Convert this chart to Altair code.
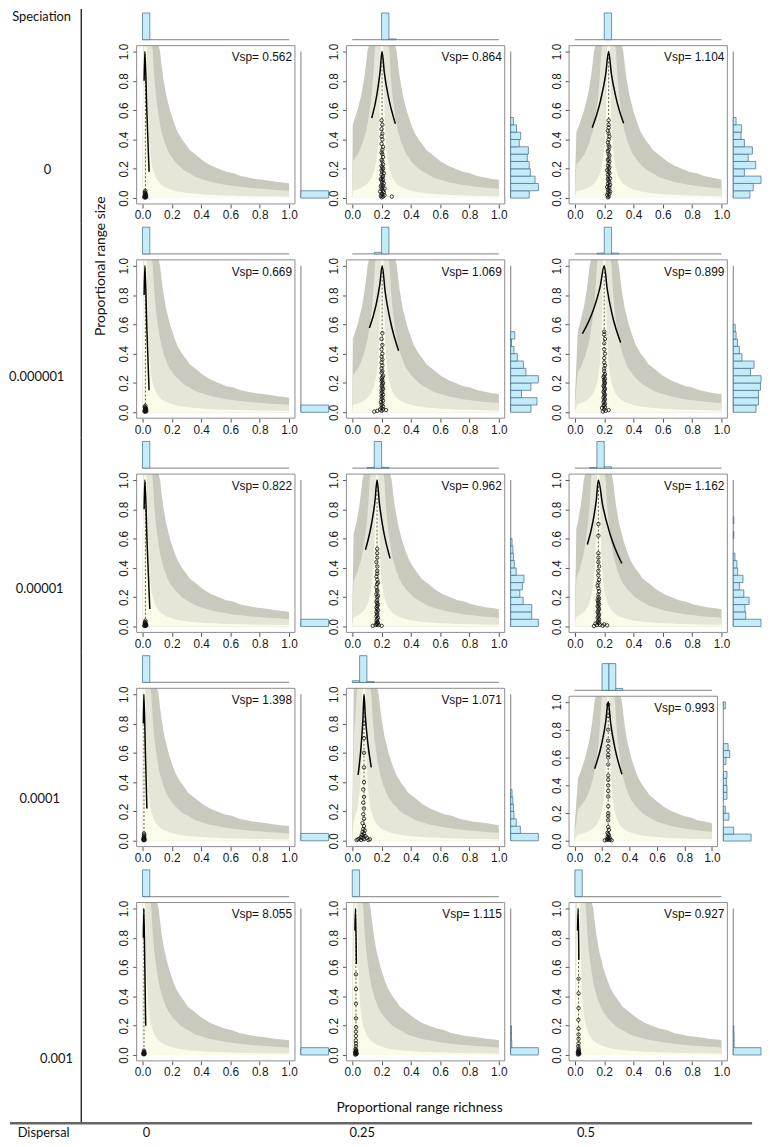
import altair as alt
import pandas as pd

# ---------------- data ----------------
ROW_LABELS = ["0", "0.000001", "0.00001", "0.0001", "0.001"]
COL_LABELS = ["0", "0.25", "0.5"]
TICKS = [0, 0.2, 0.4, 0.6, 0.8, 1.0]

# envelope bands: distance from centre -> upper edge of each band
BAND_D = [0.002, 0.005, 0.008, 0.01, 0.012, 0.015, 0.02, 0.025, 0.03, 0.035, 0.04, 0.045, 0.05,
          0.06, 0.07, 0.08, 0.09, 0.1, 0.11, 0.12, 0.13, 0.14, 0.15, 0.16, 0.17, 0.18, 0.2, 0.22,
          0.25, 0.28, 0.3, 0.35, 0.4, 0.45, 0.5, 0.55, 0.6, 0.65, 0.7, 0.75, 0.8, 0.85, 0.9, 0.95, 1.0]
BAND_OUTER = [2.0, 2.0, 2.0, 2.0, 2.0, 2.0, 2.0, 2.0, 2.0, 2.0, 2.0, 2.0, 2.0,
              1.67, 1.43, 1.25, 1.11, 1.0, 0.91, 0.83, 0.77, 0.71, 0.67, 0.63, 0.59, 0.56, 0.5, 0.45,
              0.4, 0.36, 0.33, 0.29, 0.25, 0.22, 0.2, 0.18, 0.17, 0.15, 0.14, 0.13, 0.125, 0.118, 0.11, 0.105, 0.1]
BAND_MID = [2.5, 2.5, 2.5, 2.5, 2.5, 2.5, 2.5, 2.0, 1.67, 1.43, 1.25, 1.11, 1.0,
            0.83, 0.71, 0.63, 0.56, 0.5, 0.45, 0.42, 0.38, 0.36, 0.33, 0.31, 0.29, 0.28, 0.25, 0.23,
            0.2, 0.18, 0.17, 0.14, 0.125, 0.11, 0.1, 0.09, 0.083, 0.077, 0.071, 0.067, 0.063, 0.059, 0.056, 0.053, 0.05]
BAND_INNER = [5.0, 2.0, 1.25, 1.0, 0.83, 0.67, 0.5, 0.4, 0.33, 0.29, 0.25, 0.22, 0.2,
              0.17, 0.14, 0.125, 0.11, 0.1, 0.09, 0.083, 0.077, 0.071, 0.067, 0.063, 0.059, 0.056, 0.05, 0.045,
              0.04, 0.036, 0.033, 0.029, 0.025, 0.022, 0.02, 0.018, 0.017, 0.015, 0.014, 0.013, 0.0125, 0.012, 0.011, 0.0105, 0.01]

# panels in row-major order (5 speciation rows x 3 dispersal columns)
VSP = ["0.562", "0.864", "1.104", "0.669", "1.069", "0.899", "0.822", "0.962", "1.162",
       "1.398", "1.071", "0.993", "8.055", "1.115", "0.927"]
CENTER = [0.02, 0.203, 0.23, 0.02, 0.204, 0.2, 0.02, 0.169, 0.16, 0.01, 0.08, 0.245, 0.01, 0.025, 0.025]

TOP_START = [[0.0], [0.2, 0.25], [0.2],
             [0.0], [0.15, 0.2], [0.15, 0.2, 0.25],
             [0.0], [0.1, 0.15, 0.2], [0.1, 0.15, 0.2],
             [0.0], [0.0, 0.05, 0.1], [0.2, 0.25, 0.3],
             [0.0], [0.0], [0.0]]
TOP_FRAC = [[1.0], [1.0, 0.03], [1.0],
            [1.0], [0.06, 1.0], [0.03, 1.0, 0.03],
            [1.0], [0.02, 1.0, 0.03], [0.02, 1.0, 0.05],
            [1.0], [0.06, 1.0, 0.03], [1.0, 1.0, 0.07],
            [1.0], [1.0], [1.0]]

# right histograms: bins of 0.05 from 0 upward
RIGHT_FRAC = [
    [1.0],
    [0.67, 1.0, 0.88, 0.71, 0.67, 0.6, 0.64, 0.31, 0.36, 0.21, 0.1],
    [0.6, 0.72, 1.0, 0.4, 0.81, 0.54, 0.69, 0.4, 0.28, 0.3, 0.1],
    [1.0],
    [0.73, 0.95, 0.39, 0.73, 1.0, 0.55, 0.46, 0.24, 0.12, 0.03, 0.15],
    [0.82, 0.91, 0.91, 0.98, 1.0, 0.62, 0.75, 0.31, 0.22, 0.15, 0.1, 0.07],
    [1.0],
    [1.0, 0.76, 0.76, 0.45, 0.33, 0.42, 0.48, 0.2, 0.13, 0.1, 0.08, 0.05],
    [1.0, 0.45, 0.42, 0.57, 0.38, 0.22, 0.35, 0.16, 0.13, 0.06, 0.0, 0.0, 0.02, 0.0, 0.02],
    [1.0],
    [1.0, 0.35, 0.2, 0.12, 0.1, 0.08, 0.05],
    [1.0, 0.37, 0.0, 0.2, 0.07, 0.0, 0.13, 0.13, 0.11, 0.13, 0.0, 0.09, 0.23, 0.17, 0.0, 0.0, 0.0, 0.0, 0.0, 0.07],
    [1.0],
    [1.0, 0.04, 0.03, 0.03],
    [1.0, 0.03, 0.03, 0.02],
]

CURVE_X = [
    [0.011, 0.016, 0.03, 0.045],
    [0.133, 0.168, 0.19, 0.203, 0.219, 0.249, 0.294],
    [0.118, 0.174, 0.21, 0.23, 0.248, 0.281, 0.332],
    [0.011, 0.016, 0.03, 0.045],
    [0.117, 0.1605, 0.188, 0.204, 0.224, 0.26, 0.316],
    [0.051, 0.1255, 0.173, 0.2, 0.22, 0.256, 0.312],
    [0.011, 0.016, 0.032, 0.05],
    [0.09, 0.1295, 0.155, 0.169, 0.185, 0.2135, 0.258],
    [0.085, 0.1225, 0.1465, 0.16, 0.189, 0.24, 0.32],
    [0.006, 0.009, 0.02, 0.03],
    [0.04, 0.06, 0.073, 0.08, 0.089, 0.105, 0.13],
    [0.146, 0.1955, 0.227, 0.245, 0.263, 0.295, 0.345],
    [0.006, 0.009, 0.016, 0.022],
    [0.018, 0.022, 0.028],
    [0.018, 0.022, 0.027],
]
CURVE_Y = [
    [0.8, 1.0, 0.58, 0.18],
    [0.546, 0.705, 0.864, 1.0, 0.852, 0.68, 0.507],
    [0.48, 0.662, 0.844, 1.0, 0.853, 0.682, 0.51],
    [0.8, 1.0, 0.56, 0.15],
    [0.575, 0.724, 0.873, 1.0, 0.826, 0.623, 0.42],
    [0.536, 0.698, 0.861, 1.0, 0.843, 0.659, 0.476],
    [0.8, 1.0, 0.55, 0.12],
    [0.524, 0.691, 0.857, 1.0, 0.84, 0.652, 0.465],
    [0.56, 0.714, 0.868, 1.0, 0.829, 0.63, 0.43],
    [0.8, 1.0, 0.6, 0.22],
    [0.45, 0.6425, 0.835, 1.0, 0.85, 0.675, 0.5],
    [0.52, 0.688, 0.856, 1.0, 0.844, 0.662, 0.48],
    [0.8, 1.0, 0.6, 0.2],
    [0.85, 1.0, 0.62],
    [0.85, 1.0, 0.65],
]

PTS_X = [
    [0.012, 0.015, 0.018, 0.02, 0.022, 0.025, 0.015, 0.02, 0.018, 0.022, 0.016, 0.02, 0.024, 0.019],
    [0.2, 0.21, 0.195, 0.22, 0.205, 0.2, 0.215, 0.19, 0.21, 0.2, 0.22, 0.205, 0.195, 0.21, 0.2, 0.215, 0.205, 0.2,
     0.21, 0.195, 0.205, 0.21, 0.2, 0.215, 0.205, 0.2, 0.21, 0.205, 0.2, 0.21, 0.205, 0.2, 0.21, 0.205, 0.2, 0.205,
     0.21, 0.2, 0.205, 0.2, 0.205, 0.2, 0.205, 0.2, 0.27],
    [0.225, 0.23, 0.22, 0.235, 0.225, 0.24, 0.23, 0.225, 0.235, 0.22, 0.23, 0.24, 0.225, 0.235, 0.23, 0.225, 0.24,
     0.23, 0.225, 0.235, 0.23, 0.22, 0.23, 0.235, 0.225, 0.23, 0.235, 0.225, 0.23, 0.235, 0.23, 0.225, 0.23, 0.235,
     0.23, 0.225, 0.23, 0.235, 0.23, 0.225, 0.23, 0.23, 0.23],
    [0.013, 0.016, 0.019, 0.021, 0.023, 0.026, 0.017, 0.02, 0.018, 0.023, 0.015, 0.021, 0.025, 0.02],
    [0.15, 0.17, 0.2, 0.23, 0.19, 0.21, 0.2, 0.21, 0.2, 0.205, 0.195, 0.21, 0.2, 0.205, 0.2, 0.21, 0.2, 0.205, 0.2,
     0.21, 0.205, 0.2, 0.205, 0.21, 0.2, 0.205, 0.2, 0.205, 0.21, 0.2, 0.205, 0.2, 0.205, 0.2, 0.205, 0.2, 0.205,
     0.2, 0.205, 0.2, 0.205],
    [0.19, 0.21, 0.23, 0.2, 0.185, 0.205, 0.195, 0.2, 0.205, 0.195, 0.2, 0.205, 0.195, 0.2, 0.205, 0.2, 0.195, 0.2,
     0.205, 0.2, 0.195, 0.2, 0.205, 0.2, 0.2, 0.205, 0.195, 0.2, 0.205, 0.2, 0.2, 0.205, 0.2, 0.2, 0.205, 0.2, 0.2,
     0.205, 0.2, 0.2],
    [0.012, 0.016, 0.018, 0.02, 0.023, 0.026, 0.015, 0.021, 0.019, 0.024, 0.017, 0.02],
    [0.14, 0.2, 0.16, 0.18, 0.17, 0.165, 0.175, 0.17, 0.165, 0.17, 0.175, 0.165, 0.17, 0.17, 0.165, 0.175, 0.17,
     0.165, 0.17, 0.175, 0.17, 0.165, 0.17, 0.17, 0.175, 0.165, 0.17, 0.17, 0.165, 0.17, 0.175, 0.17, 0.165, 0.17,
     0.17, 0.17, 0.165, 0.17, 0.17, 0.17],
    [0.13, 0.19, 0.22, 0.15, 0.17, 0.2, 0.14, 0.165, 0.155, 0.16, 0.165, 0.155, 0.16, 0.165, 0.16, 0.155, 0.16,
     0.165, 0.16, 0.155, 0.165, 0.16, 0.16, 0.155, 0.165, 0.16, 0.16, 0.165, 0.16, 0.155, 0.16, 0.165, 0.16, 0.16,
     0.165, 0.16, 0.16, 0.16, 0.16, 0.16],
    [0.006, 0.008, 0.01, 0.012, 0.014, 0.009, 0.011, 0.01, 0.007, 0.013, 0.01, 0.012],
    [0.03, 0.06, 0.11, 0.04, 0.08, 0.12, 0.05, 0.07, 0.1, 0.06, 0.09, 0.075, 0.065, 0.08, 0.07, 0.085, 0.075, 0.08,
     0.07, 0.08, 0.075, 0.08, 0.075, 0.08, 0.075, 0.08, 0.08, 0.08, 0.08, 0.08],
    [0.22, 0.27, 0.235, 0.25, 0.26, 0.24, 0.245, 0.255, 0.24, 0.25, 0.245, 0.24, 0.25, 0.245, 0.245, 0.245, 0.245,
     0.245, 0.245, 0.245, 0.245, 0.245, 0.245, 0.245, 0.245, 0.245, 0.245, 0.245, 0.245, 0.245, 0.245, 0.245],
    [0.006, 0.008, 0.01, 0.012, 0.014, 0.009, 0.011, 0.01, 0.007, 0.013],
    [0.02, 0.025, 0.03, 0.022, 0.028, 0.024, 0.02, 0.026, 0.023, 0.027, 0.025, 0.022, 0.025, 0.025, 0.024, 0.025,
     0.025, 0.026, 0.025, 0.025, 0.025, 0.025],
    [0.021, 0.026, 0.03, 0.023, 0.028, 0.025, 0.02, 0.027, 0.024, 0.026, 0.025, 0.023, 0.025, 0.025, 0.025, 0.025,
     0.024, 0.025, 0.025, 0.025],
]
PTS_Y = [
    [0.005, 0.01, 0.005, 0.008, 0.012, 0.006, 0.02, 0.025, 0.035, 0.03, 0.04, 0.015, 0.018, 0.05],
    [0.005, 0.01, 0.015, 0.02, 0.025, 0.03, 0.04, 0.045, 0.05, 0.06, 0.065, 0.07, 0.08, 0.085, 0.09, 0.1, 0.11,
     0.12, 0.125, 0.13, 0.14, 0.15, 0.16, 0.17, 0.18, 0.19, 0.2, 0.21, 0.22, 0.23, 0.25, 0.26, 0.28, 0.3, 0.31,
     0.33, 0.35, 0.37, 0.4, 0.42, 0.44, 0.47, 0.5, 0.53, 0.01],
    [0.005, 0.01, 0.02, 0.03, 0.035, 0.045, 0.05, 0.06, 0.07, 0.075, 0.085, 0.09, 0.1, 0.11, 0.12, 0.13, 0.135,
     0.145, 0.16, 0.17, 0.18, 0.19, 0.2, 0.21, 0.22, 0.235, 0.25, 0.26, 0.27, 0.29, 0.3, 0.32, 0.33, 0.35, 0.36,
     0.38, 0.4, 0.42, 0.44, 0.46, 0.48, 0.5, 0.53],
    [0.006, 0.011, 0.004, 0.009, 0.013, 0.007, 0.022, 0.027, 0.033, 0.028, 0.038, 0.016, 0.02, 0.045],
    [0.005, 0.01, 0.01, 0.015, 0.02, 0.02, 0.03, 0.04, 0.05, 0.06, 0.07, 0.08, 0.09, 0.1, 0.11, 0.12, 0.13, 0.14,
     0.15, 0.16, 0.17, 0.18, 0.19, 0.2, 0.21, 0.22, 0.23, 0.24, 0.25, 0.27, 0.28, 0.3, 0.32, 0.34, 0.36, 0.38, 0.4,
     0.43, 0.46, 0.5, 0.54],
    [0.005, 0.01, 0.015, 0.02, 0.03, 0.035, 0.045, 0.05, 0.06, 0.07, 0.08, 0.09, 0.1, 0.11, 0.12, 0.13, 0.14, 0.15,
     0.16, 0.17, 0.18, 0.19, 0.2, 0.21, 0.22, 0.23, 0.24, 0.25, 0.26, 0.28, 0.3, 0.32, 0.34, 0.37, 0.4, 0.43, 0.47,
     0.5, 0.53, 0.55],
    [0.004, 0.009, 0.006, 0.01, 0.005, 0.008, 0.018, 0.02, 0.03, 0.015, 0.028, 0.04],
    [0.005, 0.005, 0.01, 0.01, 0.015, 0.02, 0.025, 0.03, 0.04, 0.05, 0.06, 0.07, 0.08, 0.09, 0.1, 0.11, 0.12, 0.13,
     0.14, 0.15, 0.16, 0.17, 0.18, 0.2, 0.21, 0.22, 0.24, 0.25, 0.27, 0.29, 0.3, 0.32, 0.34, 0.36, 0.38, 0.41, 0.44,
     0.47, 0.5, 0.53],
    [0.003, 0.005, 0.008, 0.01, 0.012, 0.015, 0.02, 0.025, 0.03, 0.04, 0.05, 0.06, 0.07, 0.08, 0.09, 0.1, 0.11,
     0.12, 0.13, 0.14, 0.15, 0.16, 0.17, 0.18, 0.19, 0.2, 0.22, 0.24, 0.26, 0.28, 0.3, 0.32, 0.35, 0.38, 0.41, 0.44,
     0.47, 0.5, 0.62, 0.7],
    [0.004, 0.01, 0.006, 0.008, 0.005, 0.02, 0.025, 0.035, 0.015, 0.018, 0.05, 0.04],
    [0.005, 0.005, 0.005, 0.01, 0.01, 0.01, 0.015, 0.02, 0.02, 0.025, 0.03, 0.035, 0.04, 0.05, 0.06, 0.07, 0.08,
     0.1, 0.12, 0.15, 0.18, 0.22, 0.26, 0.3, 0.35, 0.4, 0.5, 0.6, 0.7, 0.8],
    [0.005, 0.005, 0.008, 0.01, 0.01, 0.015, 0.02, 0.025, 0.03, 0.04, 0.05, 0.06, 0.08, 0.1, 0.15, 0.18, 0.2, 0.25,
     0.32, 0.36, 0.4, 0.44, 0.47, 0.55, 0.6, 0.62, 0.65, 0.68, 0.72, 0.8, 0.9, 0.98],
    [0.005, 0.01, 0.007, 0.009, 0.006, 0.018, 0.022, 0.03, 0.014, 0.016],
    [0.003, 0.005, 0.008, 0.01, 0.012, 0.015, 0.018, 0.02, 0.025, 0.03, 0.035, 0.04, 0.06, 0.08, 0.1, 0.13, 0.16,
     0.19, 0.25, 0.35, 0.45, 0.55],
    [0.003, 0.006, 0.008, 0.011, 0.013, 0.016, 0.02, 0.024, 0.03, 0.035, 0.045, 0.06, 0.08, 0.11, 0.14, 0.18, 0.24,
     0.32, 0.42, 0.52],
]

# ---------------- styles / layout ----------------
C_OUTER, C_MID, C_INNER = "#c9c9bd", "#e6e6d8", "#fbfbea"
HIST_FILL, HIST_STROKE = "#c4ebf8", "#3f6a8a"
GREY_LINE = "#9a9a9a"
AX_FONT = "Liberation Sans"
TXT_FONT = "Lato"
LEFT_W, ROW_GAP, CELL_H = 128, 19.5, 197


def geom(r, c):
    if r == 3 and c == 2:
        return 150, 45, 152, 184
    if c == 0:
        return 160, 37, 160, 212
    if c == 1:
        return 160, 37, 160, (224.7 if r == 3 else 218.5)
    return 160, 37, 160, 194


def axis(vertical):
    kw = dict(values=TICKS, format=".1f", title=None, domain=False, grid=False, tickSize=4,
              tickColor="#555", labelFontSize=12, labelColor="#1a1a1a", labelFont=AX_FONT,
              labelFlush=False, labelOverlap=False)
    if vertical:
        kw.update(labelAngle=270, labelAlign="center", labelBaseline="bottom", labelPadding=2)
    else:
        kw.update(labelPadding=2)
    return alt.Axis(**kw)


def panel(i, r, c):
    fw, top, fh, vw = geom(r, c)
    ctr = CENTER[i]
    pad = fw * 0.04 / 1.08
    xs = alt.Scale(domain=[-0.04, 1.04], range=[0, fw], nice=False, zero=False)
    ys = alt.Scale(domain=[-0.04, 1.04], range=[top + fh, top], nice=False, zero=False)
    xb = alt.Scale(domain=[0, 1], range=[pad, fw - pad], clamp=True, nice=False, zero=False)
    yb = alt.Scale(domain=[-0.04, 1.04], range=[top + fh, top], clamp=True, nice=False, zero=False)
    ts = alt.Scale(domain=[0, 1], range=[top - 6, top - 33], nice=False)
    rs = alt.Scale(domain=[0, 1], range=[fw + 6, fw + 34], nice=False)

    recs = []
    for d, o, m, n in zip(BAND_D, BAND_OUTER, BAND_MID, BAND_INNER):
        for s in (-1, 1):
            recs.append({"x": ctr + s * d, "outer": o, "mid": m, "inner": n, "base": 0.0})
    band = alt.Chart(pd.DataFrame(recs))
    layers = [
        band.mark_area(color=C_OUTER).encode(
            x=alt.X("x:Q", scale=xb, axis=axis(False)),
            y=alt.Y("outer:Q", scale=yb, axis=axis(True)), y2="base"),
        band.mark_area(color=C_MID).encode(
            x=alt.X("x:Q", scale=xb, axis=None),
            y=alt.Y("mid:Q", scale=yb, axis=None), y2="base"),
        band.mark_area(color=C_INNER).encode(
            x=alt.X("x:Q", scale=xb, axis=None),
            y=alt.Y("inner:Q", scale=yb, axis=None), y2="base"),
    ]
    vline = pd.DataFrame({"x": [ctr], "y0": [0.0], "y1": [1.0]})
    layers.append(alt.Chart(vline).mark_rule(color="#333", strokeWidth=0.8, strokeDash=[2, 2]).encode(
        x=alt.X("x:Q", scale=xs, axis=None), y=alt.Y("y0:Q", scale=ys, axis=None), y2="y1"))
    pts = pd.DataFrame({"x": PTS_X[i][:len(PTS_Y[i])], "y": PTS_Y[i][:len(PTS_X[i])]})
    layers.append(alt.Chart(pts).mark_point(shape="circle", filled=False, size=12, strokeWidth=0.8,
                                            color="#111", opacity=1).encode(
        x=alt.X("x:Q", scale=xs, axis=None), y=alt.Y("y:Q", scale=ys, axis=None)))
    cur = pd.DataFrame({"x": CURVE_X[i], "y": CURVE_Y[i]})
    layers.append(alt.Chart(cur).mark_line(color="black", strokeWidth=1.5, interpolate="monotone").encode(
        x=alt.X("x:Q", scale=xs, axis=None), y=alt.Y("y:Q", scale=ys, axis=None)))
    one = alt.Chart(pd.DataFrame({"k": [0]}))
    layers.append(one.mark_text(align="right", baseline="middle", fontSize=12, font=AX_FONT,
                                color="#111").encode(
        x=alt.value(fw - 3), y=alt.value(top + 12), text=alt.value(f"Vsp= {VSP[i]}")))
    layers.append(one.mark_rect(fillOpacity=0, stroke="#8c8c8c", strokeWidth=1).encode(
        x=alt.value(0), x2=alt.value(fw), y=alt.value(top), y2=alt.value(top + fh)))
    # top histogram
    tbase = pd.DataFrame({"x0": [0.0], "x1": [1.0], "h": [0.0]})
    layers.append(alt.Chart(tbase).mark_rule(color=GREY_LINE, strokeWidth=1.3).encode(
        x=alt.X("x0:Q", scale=xs, axis=None), x2="x1", y=alt.Y("h:Q", scale=ts, axis=None)))
    th = pd.DataFrame({"x0": TOP_START[i], "x1": [s + 0.05 for s in TOP_START[i]],
                       "h": TOP_FRAC[i], "h0": [0.0] * len(TOP_START[i])})
    layers.append(alt.Chart(th).mark_rect(fill=HIST_FILL, stroke=HIST_STROKE, strokeWidth=0.7).encode(
        x=alt.X("x0:Q", scale=xs, axis=None), x2="x1", y=alt.Y("h:Q", scale=ts, axis=None), y2="h0"))
    # right histogram
    rbase = pd.DataFrame({"w": [0.0], "y0": [0.0], "y1": [1.0]})
    layers.append(alt.Chart(rbase).mark_rule(color=GREY_LINE, strokeWidth=1.3).encode(
        x=alt.X("w:Q", scale=rs, axis=None), y=alt.Y("y0:Q", scale=ys, axis=None), y2="y1"))
    rf = RIGHT_FRAC[i]
    rh = pd.DataFrame({"y0": [k * 0.05 for k in range(len(rf))], "y1": [(k + 1) * 0.05 for k in range(len(rf))],
                       "w": rf, "w0": [0.0] * len(rf)})
    rh = rh[rh["w"] > 0]
    layers.append(alt.Chart(rh).mark_rect(fill=HIST_FILL, stroke=HIST_STROKE, strokeWidth=0.7).encode(
        y=alt.Y("y0:Q", scale=ys, axis=None), y2="y1", x=alt.X("w:Q", scale=rs, axis=None), x2="w0"))
    return alt.layer(*layers).resolve_scale(x="independent", y="independent").properties(
        width=vw, height=top + fh)


one = alt.Chart(pd.DataFrame({"k": [0]}))


def label(text, x, y, size=13, angle=0, font=TXT_FONT):
    kw = dict(fontSize=size, font=font, color="#111", align="center", baseline="middle")
    if angle:
        kw["angle"] = angle
    return one.mark_text(**kw).encode(x=alt.value(x), y=alt.value(y), text=alt.value(text))


ROW_LABEL_XY = [(38, 163), (27, 155.5), (30, 153), (30, 148.5), (47, 195)]
COL_LABEL_X = [138, 356, 582]


def label_cell(r):
    last = r == 4
    layers = [one.mark_rule(color="black", strokeWidth=1.2).encode(
        x=alt.value(72), y=alt.value(0), y2=alt.value(260 if last else CELL_H + ROW_GAP))]
    lx, ly = ROW_LABEL_XY[r]
    layers.append(label(ROW_LABELS[r], lx, ly))
    if r == 0:
        layers.append(label("Speciation", 32, 8))
        layers.append(label("Proportional range size", 92, 260, size=14, angle=270))
    if last:
        layers.append(label("Proportional range richness", 414, 245, size=14))
        layers.append(one.mark_rule(color="#666", strokeWidth=2.5).encode(
            x=alt.value(0), x2=alt.value(750), y=alt.value(260)))
        layers.append(label("Dispersal", 34, 270))
        for lab, px in zip(COL_LABELS, COL_LABEL_X):
            layers.append(label(lab, px, 270))
    return alt.layer(*layers).properties(width=LEFT_W, height=CELL_H)


cells = []
for r in range(5):
    cells.append(label_cell(r))
    for c in range(3):
        cells.append(panel(r * 3 + c, r, c))

chart = alt.concat(
    *cells, columns=4, spacing={"row": ROW_GAP, "column": 0}, bounds="flush", align="none"
).properties(padding={"top": -6, "bottom": 0, "left": 0, "right": 0}).configure(
    font=AX_FONT, view=alt.ViewConfig(strokeWidth=0, stroke="transparent"))

chart.save("out.html", embed_options={"renderer": "svg", "actions": False})
